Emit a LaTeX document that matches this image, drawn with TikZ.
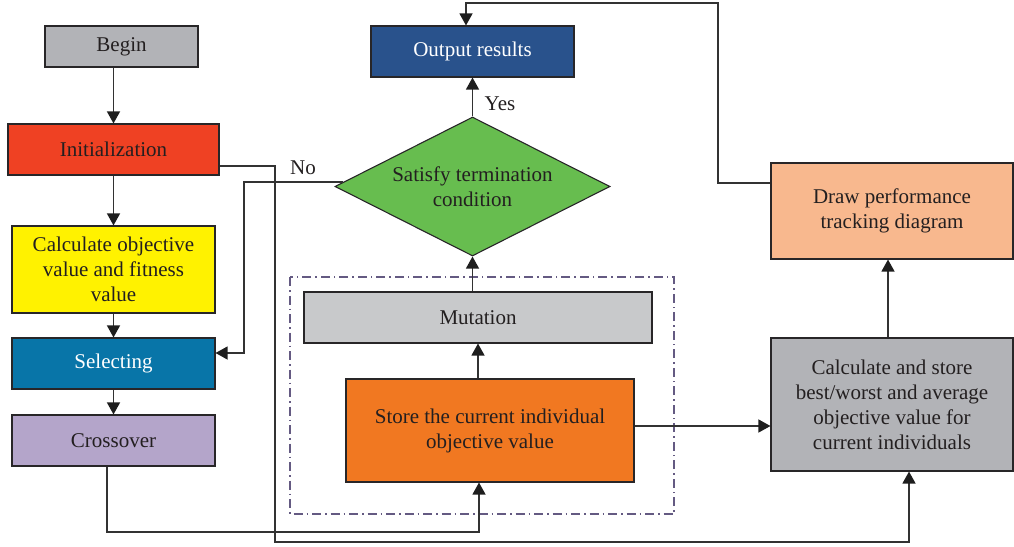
\documentclass[tikz,border=0pt]{standalone}
\usepackage{fontspec}
\setmainfont{Liberation Serif}
\usetikzlibrary{shapes.geometric,arrows.meta,calc}
\definecolor{beginc}{RGB}{178,179,183}
\definecolor{initc}{RGB}{239,65,35}
\definecolor{calcc}{RGB}{255,242,0}
\definecolor{selc}{RGB}{8,117,168}
\definecolor{crossc}{RGB}{180,165,202}
\definecolor{outc}{RGB}{41,82,140}
\definecolor{diac}{RGB}{103,189,79}
\definecolor{mutc}{RGB}{200,201,203}
\definecolor{storec}{RGB}{241,120,33}
\definecolor{drawc}{RGB}{248,184,142}
\definecolor{csc}{RGB}{178,179,183}
\definecolor{linec}{RGB}{50,50,50}
\definecolor{tipc}{RGB}{30,30,30}
\definecolor{bordc}{RGB}{40,38,40}
\definecolor{txt}{RGB}{35,31,32}
\definecolor{dashc}{RGB}{100,90,130}
\begin{document}
\begin{tikzpicture}[x=1pt,y=-1pt,
  box/.style={draw=bordc, line width=1.1pt, rectangle, align=center, inner sep=0pt, text=txt, font=\fontsize{21}{25}\selectfont},
  arr/.style={draw=linec, line width=1.3pt, -{Triangle[length=12pt,width=13pt,fill=tipc,color=tipc]}},
  lbl/.style={text=txt, font=\fontsize{21}{25}\selectfont, inner sep=0pt}]
\useasboundingbox (0,0) rectangle (1014,546);
% dash-dot frame
\draw[dashc, line width=1.1pt, dash pattern=on 9pt off 4pt on 1.5pt off 4pt] (290,277) rectangle (674,514);
% left column
\node[box, fill=beginc, minimum width=153pt, minimum height=41pt] (begin) at (121.5,46.5) {Begin};
\node[box, fill=initc, minimum width=211pt, minimum height=51pt] (init) at (113.5,149.5) {Initialization};
\node[box, fill=calcc, minimum width=203pt, minimum height=87pt] (calc) at (113.5,269.5) {Calculate objective\\value and fitness\\value};
\node[box, fill=selc, text=white, minimum width=203pt, minimum height=51pt] (sel) at (113.5,363.5) {Selecting};
\node[box, fill=crossc, minimum width=203pt, minimum height=51pt] (cross) at (113.5,440.5) {Crossover};
% middle column
\node[box, fill=outc, text=white, minimum width=203pt, minimum height=51pt] (out) at (472.5,51.5) {Output results};
\node[diamond, draw=bordc, line width=1.1pt, fill=diac, inner sep=0pt, minimum width=275pt, minimum height=139pt] (d) at (472.5,186.5) {};
\node[lbl, align=center] (dt) at (472.5,186.5) {Satisfy termination\\condition};
\node[box, fill=mutc, minimum width=348pt, minimum height=51pt] (mut) at (478,317.5) {Mutation};
\node[box, fill=storec, minimum width=288pt, minimum height=103pt] (store) at (490,430.5) {Store the current individual\\objective value};
% right column
\node[box, fill=drawc, minimum width=242pt, minimum height=96pt] (draw) at (892,211) {Draw performance\\tracking diagram};
\node[box, fill=csc, minimum width=242pt, minimum height=133pt] (cs) at (892,404.5) {Calculate and store\\best/worst and average\\objective value for\\current individuals};
% labels
\node[lbl] (no) at (303,168) {No};
\node[lbl] (yes) at (500,104) {Yes};
% connectors
\draw[arr] (begin.south -| init.north) -- (init.north);
\draw[arr] (init.south) -- (calc.north);
\draw[arr] (calc.south) -- (sel.north);
\draw[arr] (sel.south) -- (cross.north);
\coordinate (p1) at (275,542);
\coordinate (p2) at (909,542);
\draw[arr] ([yshift=-16.5pt]init.east) -| (p1) -- (p2) -- (p2 |- cs.south);
\coordinate (q) at (244,353);
\draw[arr] (d.178) -| (q) -- (q -| sel.east);
\coordinate (c1) at (107,532);
\coordinate (c2) at (479,532);
\draw[arr] (cross.south -| c1) -- (c1) -- (c2) -- (c2 |- store.south);
\draw[arr] ([yshift=4.5pt]store.east) -- ([yshift=4.5pt]store.east -| cs.west);
\draw[arr] (store.north -| mut.south) -- (mut.south);
\draw[arr] (mut.north -| d.south) -- (d.south);
\draw[arr] (d.north) -- (out.south);
\coordinate (u1) at (888,0);
\draw[arr] (cs.north -| u1) -- (draw.south -| u1);
\coordinate (t1) at (718,3);
\coordinate (t2) at (466,3);
\draw[arr] ([yshift=28pt]draw.west) -| (t1) -- (t2) -- (t2 |- out.north);
\end{tikzpicture}
\end{document}
